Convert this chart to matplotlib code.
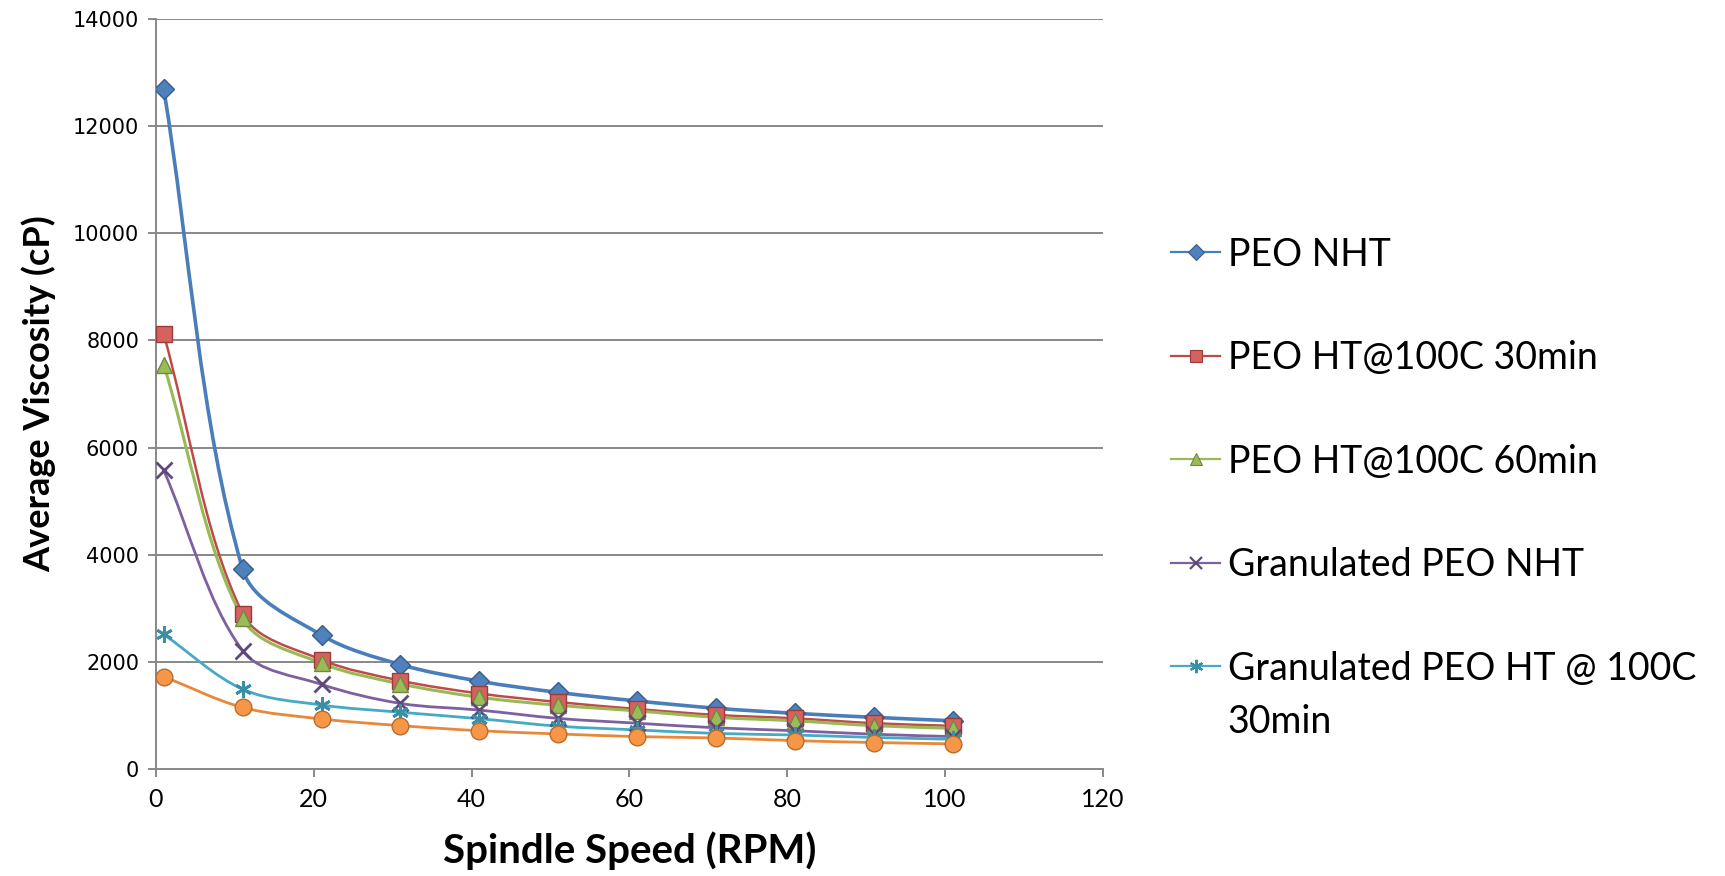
import matplotlib
matplotlib.use("Agg")
import matplotlib.pyplot as plt
import numpy as np
from matplotlib.path import Path
from matplotlib.patches import PathPatch
from matplotlib.lines import Line2D

# spindle speed (RPM)
speed = [1, 11, 21, 31, 41, 51, 61, 71, 81, 91, 101]

# average viscosity (cP)
peo_nht = [12700, 3730, 2500, 1950, 1640, 1430, 1270, 1135, 1040, 965, 900]
peo_ht30 = [8120, 2900, 2040, 1650, 1410, 1250, 1120, 1010, 946, 855, 805]
peo_ht60 = [7550, 2810, 1975, 1590, 1340, 1190, 1085, 965, 900, 810, 760]
gran_nht = [5580, 2210, 1580, 1225, 1100, 945, 855, 770, 715, 650, 605]
gran_ht30 = [2515, 1490, 1195, 1060, 940, 800, 730, 665, 635, 590, 555]
gran_other = [1725, 1150, 935, 810, 715, 655, 605, 580, 530, 495, 470]

labels = [
    "PEO NHT",
    "PEO HT@100C 30min",
    "PEO HT@100C 60min",
    "Granulated PEO NHT",
    "Granulated PEO HT @ 100C",
    None,  # legend entry is clipped off in the original
]
label_tail = "30min"  # second line of the last legend entry
series = [peo_nht, peo_ht30, peo_ht60, gran_nht, gran_ht30, gran_other]

# (line colour, marker, marker face, marker edge, marker size, line width)
styles = [
    ("#4A7EBB", "D", "#4F81BD", "#385D8A", 10, 2.6),
    ("#BE4B48", "s", "#D4625F", "#9C3B38", 11, 1.8),
    ("#98B954", "^", "#9BBB59", "#71893F", 11, 2.2),
    ("#7D60A0", "x", "#5E4A7A", "#5E4A7A", 11, 2.0),
    ("#46AAC5", (6, 2, 0), "#3A8FA6", "#3A8FA6", 12, 2.0),
    ("#E8883A", "o", "#F79646", "#B66D31", 12, 2.0),
]


def smooth_path(ax, xs, ys, tension=1 / 3):
    # Excel-like smoothed line: Bezier segments, tangents weighted by the
    # on-screen length of the neighbouring segments so steep drops don't overshoot
    trans = ax.transData
    pts = trans.transform(np.column_stack([xs, ys]))
    n = len(pts)
    ctrl_in = [None] * n
    ctrl_out = [None] * n
    for i in range(n):
        prev = pts[i - 1] if i > 0 else pts[i]
        nxt = pts[i + 1] if i + 1 < n else pts[i]
        d_prev = np.hypot(*(pts[i] - prev))
        d_next = np.hypot(*(nxt - pts[i]))
        tot = d_prev + d_next
        tang = nxt - prev
        if tot == 0:
            ctrl_in[i] = ctrl_out[i] = pts[i]
            continue
        ctrl_in[i] = pts[i] - tang * tension * d_prev / tot
        ctrl_out[i] = pts[i] + tang * tension * d_next / tot
    verts = [pts[0]]
    codes = [Path.MOVETO]
    for i in range(n - 1):
        verts += [ctrl_out[i], ctrl_in[i + 1], pts[i + 1]]
        codes += [Path.CURVE4] * 3
    verts = trans.inverted().transform(np.array(verts))
    return Path(verts, codes)


fig = plt.figure(figsize=(17.25, 8.76), dpi=100)
ax = fig.add_axes([0.0903, 0.1221, 0.5491, 0.8562])
ax.set_xlim(0, 120)
ax.set_ylim(0, 14000)

grid_col = "#888888"
handles = []
for ys, lab, (lc, mk, mf, me, ms, lw) in zip(series, labels, styles):
    ax.add_patch(PathPatch(smooth_path(ax, speed, ys), facecolor="none",
                           edgecolor=lc, lw=lw, zorder=3))
    mew = 2.0 if mk == "x" or isinstance(mk, tuple) else 1.0
    ax.plot(speed, ys, linestyle="none", marker=mk, ms=ms, mfc=mf, mec=me,
            mew=mew, zorder=4)
    if lab is not None:
        handles.append((Line2D([], [], color=lc, lw=1.6, marker=mk, ms=ms * 0.8,
                               mfc=mf, mec=me, mew=mew * 0.8), lab))

ax.set_xticks(range(0, 121, 20))
ax.set_yticks(range(0, 14001, 2000))
ax.yaxis.grid(True, color=grid_col, lw=1.4)
ax.set_axisbelow(True)
for s in ("top", "right"):
    ax.spines[s].set_visible(False)
for s in ("left", "bottom"):
    ax.spines[s].set_color(grid_col)
    ax.spines[s].set_linewidth(1.4)
ax.tick_params(axis="both", color=grid_col, width=1.4, length=6)
ax.tick_params(axis="y", labelsize=15, pad=6)
ax.tick_params(axis="x", labelsize=18, pad=8)
for t in ax.get_yticklabels():
    t.set_fontfamily("DejaVu Sans")
for t in ax.get_xticklabels():
    t.set_fontfamily("Lato")

ax.set_xlabel("Spindle Speed (RPM)", fontsize=29, fontweight="bold",
              fontfamily="Lato", labelpad=14)
ax.set_ylabel("Average Viscosity (cP)", fontsize=26, fontweight="bold",
              fontfamily="Lato", labelpad=12)

leg = fig.legend([h for h, _ in handles], [l for _, l in handles],
                 loc="upper left", bbox_to_anchor=(0.679, 0.730),
                 frameon=False, prop={"family": "Lato", "size": 27},
                 handlelength=1.3, handletextpad=0.2, labelspacing=1.8,
                 borderpad=0, borderaxespad=0)

# wrapped second line of the last legend label, placed under its first line
fig.canvas.draw()
last = leg.get_texts()[-1].get_window_extent()
fig.text(last.x0 / fig.bbox.width, (last.y0 - 53) / fig.bbox.height, label_tail,
         fontsize=27, fontfamily="Lato", va="bottom", ha="left")

fig.savefig("out.png", dpi=100)
